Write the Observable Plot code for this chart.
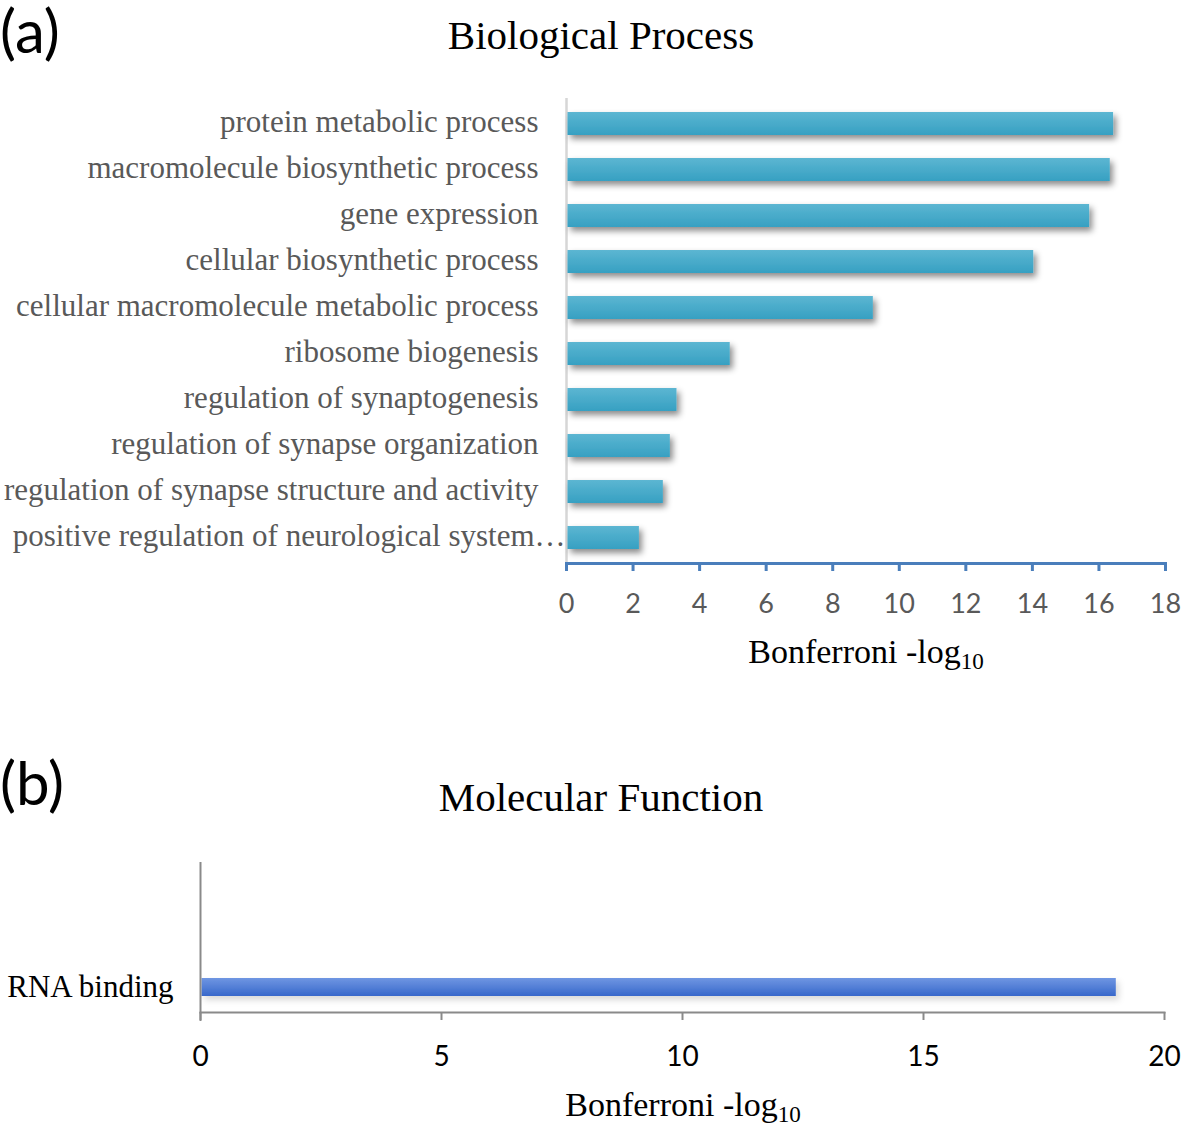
<!DOCTYPE html>
<html>
<head>
<meta charset="utf-8">
<script src="https://cdn.jsdelivr.net/npm/d3@7"></script>
<script src="https://cdn.jsdelivr.net/npm/@observablehq/plot@0.6"></script>
<style>
  body { margin: 0; background: #fff; }
  #wrap { position: relative; width: 1181px; height: 1126px; overflow: hidden; background: #fff; }
  .abs { position: absolute; white-space: nowrap; }
  .panel { font-family: Lato, "Open Sans", sans-serif; font-size: 60px; line-height: 1; color: #000; }
  .title { font-family: "Liberation Serif", "DejaVu Serif", serif; font-size: 41px; color: #000; transform: translate(-50%, -50%); }
  .xlabel { font-family: "Liberation Serif", "DejaVu Serif", serif; font-size: 34px; color: #000; transform: translate(-50%, -50%); }
  .xlabel sub { font-size: 0.68em; vertical-align: -0.28em; line-height: 0; }
  svg { position: absolute; left: 0; }
</style>
</head>
<body>
<div id="wrap">
  <div class="abs panel" style="left:0px; top:0px;">(a)</div>
  <div class="abs title" style="left:601px; top:35px;">Biological Process</div>
  <div class="abs xlabel" style="left:866px; top:652px;">Bonferroni -log<sub>10</sub></div>
  <div class="abs panel" style="left:0px; top:752px;">(b)</div>
  <div class="abs title" style="left:601px; top:797px;">Molecular Function</div>
  <div class="abs xlabel" style="left:683px; top:1105px;">Bonferroni -log<sub>10</sub></div>
</div>
<script>
// ---- Data: (a) Biological Process ----
const bpTerms = [
  "protein metabolic process",
  "macromolecule biosynthetic process",
  "gene expression",
  "cellular biosynthetic process",
  "cellular macromolecule metabolic process",
  "ribosome biogenesis",
  "regulation of synaptogenesis",
  "regulation of synapse organization",
  "regulation of synapse structure and activity",
  "positive regulation of neurological system…"
];
const bpValues = [16.44, 16.34, 15.72, 14.04, 9.22, 4.92, 3.32, 3.12, 2.91, 2.19];
const bpTicks = [0, 2, 4, 6, 8, 10, 12, 14, 16, 18];

// ---- Data: (b) Molecular Function ----
const mfTerms = ["RNA binding"];
const mfValues = [19.0];
const mfTicks = [0, 5, 10, 15, 20];

const bpData = bpTerms.map((t, i) => ({term: t, value: bpValues[i]}));
const mfData = mfTerms.map((t, i) => ({term: t, value: mfValues[i]}));

const serif = "'Liberation Serif', 'DejaVu Serif', serif";
const sans = "Lato, 'Open Sans', sans-serif";
const blueAxis = "#4a7ebb";

const fullTerms = bpTerms.filter(t => !t.endsWith("…"));
const cutTerms = bpTerms.filter(t => t.endsWith("…"));

// ---- Panel (a) ----
const plotA = Plot.plot({
  width: 1181,
  height: 600,
  marginLeft: 566,
  marginRight: 16,
  marginTop: 18,
  marginBottom: 117,
  style: {background: "transparent", overflow: "visible"},
  x: {domain: [0, 18], axis: null},
  y: {domain: bpTerms, paddingInner: 0.5, paddingOuter: 0.25, axis: null},
  marks: [
    Plot.ruleX([0], {stroke: "#d6d6d6", strokeWidth: 2.5}),
    Plot.barX(bpData, {y: "term", x: "value", fill: "url(#gradA)", insetLeft: 1.5}),
    Plot.frame({anchor: "bottom", stroke: blueAxis, strokeWidth: 3}),
    Plot.axisX({ticks: bpTicks, tickSize: 8, tickPadding: 22, stroke: blueAxis, strokeWidth: 3,
                fontSize: 27, fontFamily: sans, fill: "#595959", label: null}),
    Plot.axisY({ticks: fullTerms, tickSize: 0, tickPadding: 28, fontSize: 31, fontFamily: serif,
                fill: "#595959", label: null, dy: -2}),
    Plot.axisY({ticks: cutTerms, tickSize: 0, tickPadding: 1, fontSize: 31, fontFamily: serif,
                fill: "#595959", label: null, textOverflow: null, dy: -2})
  ]
});
plotA.style.top = "80px";

// ---- Panel (b) ----
const plotB = Plot.plot({
  width: 1181,
  height: 286,
  marginLeft: 200,
  marginRight: 17,
  marginTop: 22,
  marginBottom: 114,
  style: {background: "transparent", overflow: "visible"},
  x: {domain: [0, 20], axis: null},
  y: {domain: mfTerms, range: [138, 156], padding: 0, axis: null},
  marks: [
    Plot.barX(mfData, {y: "term", x: "value", fill: "url(#gradB)", insetLeft: 1.5}),
    Plot.ruleX([0], {stroke: "#8a8a8a", strokeWidth: 2, insetBottom: -9}),
    Plot.frame({anchor: "bottom", stroke: "#8a8a8a", strokeWidth: 2}),
    Plot.axisX({ticks: mfTicks, tickSize: 8, tickPadding: 26, stroke: "#8a8a8a", strokeWidth: 2,
                fontSize: 28, fontFamily: sans, fill: "#000", label: null}),
    Plot.axisY({ticks: mfTerms, tickSize: 0, tickPadding: 27, fontSize: 31, fontFamily: serif,
                fill: "#000", label: null})
  ]
});
plotB.style.top = "840px";

// gradients and shadow
function addDefs(svg, id, c1, c2, shadowId, op) {
  const defs = d3.select(svg).insert("defs", ":first-child");
  const g = defs.append("linearGradient").attr("id", id).attr("x1", 0).attr("y1", 0).attr("x2", 0).attr("y2", 1);
  g.append("stop").attr("offset", "0%").attr("stop-color", c1);
  g.append("stop").attr("offset", "100%").attr("stop-color", c2);
  const f = defs.append("filter").attr("id", shadowId).attr("x", "-10%").attr("y", "-50%").attr("width", "130%").attr("height", "250%");
  f.append("feDropShadow").attr("dx", 3).attr("dy", 4).attr("stdDeviation", 3)
    .attr("flood-color", "#000").attr("flood-opacity", op);
}
addDefs(plotA, "gradA", "#5cb6d2", "#36a0c2", "shadowA", 0.45);
addDefs(plotB, "gradB", "#6f96e2", "#3868cb", "shadowB", 0.15);
d3.select(plotA).selectAll("g[aria-label='bar'] rect").attr("filter", "url(#shadowA)");
d3.select(plotB).selectAll("g[aria-label='bar'] rect").attr("filter", "url(#shadowB)");

const wrap = document.getElementById("wrap");
wrap.appendChild(plotA);
wrap.appendChild(plotB);
</script>
</body>
</html>
